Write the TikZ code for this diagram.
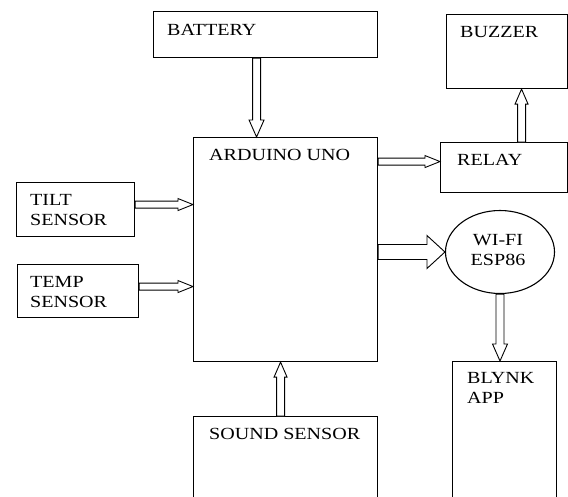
\documentclass[tikz,border=0pt]{standalone}
\usepackage{fontspec}
\setmainfont{Liberation Serif}[FakeStretch=1.18]
\usetikzlibrary{shapes.geometric,calc}
\newcommand\lbfont{\fontsize{17}{20}\selectfont}
% fat hollow arrow: #1 from, #2 to, #3 shaft half width, #4 head length, #5 head half width
\newcommand\fatarr[5]{%
  \coordinate (fa) at (#1);
  \coordinate (fb) at (#2);
  \coordinate (fh) at ($(fb)!#4!(fa)$);
  \draw[fatline] ($(fa)!#3!90:(fb)$) -- ($(fh)!#3!-90:(fa)$) -- ($(fh)!#5!-90:(fa)$) -- (fb)
     -- ($(fh)!#5!90:(fa)$) -- ($(fh)!#3!90:(fa)$) -- ($(fa)!#3!-90:(fb)$) -- cycle;}
\tikzset{
  box/.style={draw, line width=1.1pt, rectangle, inner sep=0pt, anchor=north west},
  lbl/.style={inner sep=0pt, anchor=base west, font=\lbfont, align=left},
  fatline/.style={draw=black, fill=white, line width=0.9pt, line join=miter}
}
\begin{document}
\begin{tikzpicture}[x=1pt,y=-1pt]
\useasboundingbox[fill=white] (0,0) rectangle (568,496);
% boxes
\node[box, minimum width=224, minimum height=46] (bat) at (153,11) {};
\node[box, minimum width=184, minimum height=224] (ard) at (193,137) {};
\node[box, minimum width=121, minimum height=74] (buz) at (446,14) {};
\node[box, minimum width=127, minimum height=50] (rel) at (440,142) {};
\node[box, minimum width=118, minimum height=54] (tilt) at (16,182) {};
\node[box, minimum width=121, minimum height=53] (temp) at (17,264) {};
\node[box, minimum width=184, minimum height=95] (snd) at (193,416) {};
\node[box, minimum width=104, minimum height=140] (bly) at (452,361) {};
\node[draw, line width=1.1pt, ellipse, minimum width=109, minimum height=83, inner sep=0pt] (wifi) at (500,252) {};
% labels
\node[lbl] (tb) at (167,35) {BATTERY};
\node[lbl] (ta) at (209,160) {ARDUINO UNO};
\node[lbl] (tz) at (460,37) {BUZZER};
\node[lbl] (tr) at (457,165) {RELAY};
\node[lbl] (tt) at (30,225) {TILT\\SENSOR};
\node[lbl] (tm) at (30,307) {TEMP\\SENSOR};
\node[lbl] (ts) at (209,439) {SOUND SENSOR};
\node[lbl] (tk) at (467,403) {BLYNK\\APP};
\node[lbl, anchor=base, align=center] (tw) at (498,265) {WI-FI\\ESP86};
% connector coordinates
\coordinate (c1) at ([xshift=-9pt]bat.south);
\coordinate (c2) at ([yshift=5pt]tilt.east);
\coordinate (c3) at ([yshift=4.5pt]temp.east);
\coordinate (c4) at ([xshift=-5pt]snd.north);
\coordinate (c5) at ([yshift=6pt]rel.west);
\coordinate (c6) at ([xshift=17.5pt]rel.north);
\coordinate (c7) at (ard.east |- wifi.west);
% arrows
\fatarr{c1}{c1 |- ard.north}{4pt}{17pt}{7.5pt}
\fatarr{c2}{c2 -| ard.west}{3.5pt}{15pt}{6pt}
\fatarr{c3}{c3 -| ard.west}{3.5pt}{15pt}{6pt}
\fatarr{c4}{c4 |- ard.south}{4pt}{15pt}{6.5pt}
\fatarr{c5 -| ard.east}{c5}{3.5pt}{15pt}{6pt}
\fatarr{c6}{c6 |- buz.south}{4pt}{15pt}{6.5pt}
\fatarr{c7}{wifi.west}{7.5pt}{18pt}{16.5pt}
\fatarr{wifi.south}{wifi.south |- bly.north}{4pt}{17pt}{7.5pt}
\end{tikzpicture}
\end{document}
